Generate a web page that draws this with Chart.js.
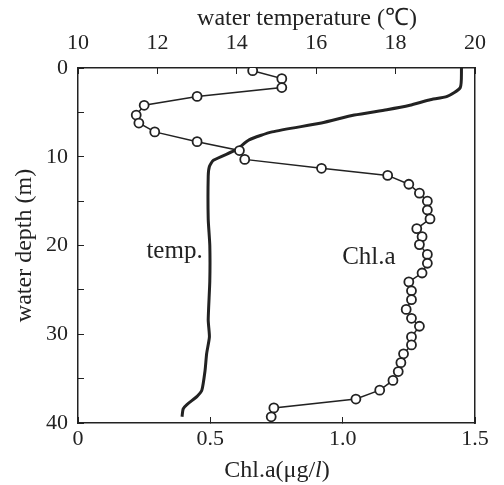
<!DOCTYPE html>
<html>
<head>
<meta charset="utf-8">
<script src="https://cdn.jsdelivr.net/npm/chart.js@4.4.0/dist/chart.umd.min.js"></script>
<style>
  html, body { margin: 0; padding: 0; background: #fff; }
</style>
</head>
<body>
<canvas id="profile" width="504" height="485"></canvas>
<script>
// Chl.a profile (bottom axis, ug/l) vs water depth (m)
const chlDepth = [0.3, 1.2, 2.2, 3.2, 4.2, 5.3, 6.2, 7.2, 8.3, 9.3,
                  10.3, 11.3, 12.1, 13.1, 14.1, 15.0, 16.0, 17.0, 18.1, 19.0,
                  19.9, 21.0, 22.0, 23.1, 24.1, 25.1, 26.1, 27.2, 28.2, 29.1,
                  30.3, 31.2, 32.2, 33.2, 34.2, 35.2, 36.3, 37.3, 38.3, 39.3];
const chlValue = [0.66, 0.77, 0.77, 0.45, 0.25, 0.22, 0.23, 0.29, 0.45, 0.61,
                  0.63, 0.92, 1.17, 1.25, 1.29, 1.32, 1.32, 1.33, 1.28, 1.30,
                  1.29, 1.32, 1.32, 1.30, 1.25, 1.26, 1.26, 1.24, 1.26, 1.29,
                  1.26, 1.26, 1.23, 1.22, 1.21, 1.19, 1.14, 1.05, 0.74, 0.73];

// water temperature profile (top axis, deg C)
const tempDepth = [0, 2.2, 3.2, 3.6, 4.2, 4.7, 5.3, 6.2, 7.2, 8.1, 9.2,
                   10.4, 11.1, 12.2, 17.0, 20.0, 24.0, 28.4, 30.3, 32.2,
                   34.1, 36.3, 37.0, 37.9, 38.4, 39.3];
const tempValue = [19.66, 19.63, 19.3, 18.85, 18.36, 17.78, 16.96, 16.13, 14.89, 14.31, 13.99,
                   13.41, 13.31, 13.28, 13.28, 13.32, 13.32, 13.28, 13.31, 13.24,
                   13.20, 13.12, 13.00, 12.75, 12.65, 12.62];

// axis ticks
const chlTicks = [0, 0.5, 1, 1.5];
const tempTicks = [10, 12, 14, 16, 18, 20];
const depthTicks = [0, 10, 20, 30, 40];

const ink = '#222';
const serif = "'Liberation Serif', 'Times New Roman', serif";

const chlPoints = chlDepth.map((d, i) => ({ x: chlValue[i], y: d }));
const tempPoints = tempDepth.map((d, i) => ({ x: tempValue[i], y: d }));

// titles and in-plot labels
const textPlugin = {
    id: 'textLabels',
    afterDraw(chart) {
        const ctx = chart.ctx;
        const x = chart.scales.x, x2 = chart.scales.x2, y = chart.scales.y;
        ctx.save();
        ctx.fillStyle = ink;
        ctx.textBaseline = 'alphabetic';

        // top title, sits a bit right of centre
        ctx.font = '24px ' + serif;
        ctx.textAlign = 'center';
        ctx.fillText('water temperature (\u2103)', 307, 25);

        // bottom title with italic l
        const parts = [['Chl.a(\u03bcg/', 'normal'], ['l', 'italic'], [')', 'normal']];
        let total = 0;
        parts.forEach(p => { ctx.font = p[1] + ' 24px ' + serif; total += ctx.measureText(p[0]).width; });
        let cx = 277 - total / 2;
        ctx.textAlign = 'left';
        parts.forEach(p => {
            ctx.font = p[1] + ' 24px ' + serif;
            ctx.fillText(p[0], cx, 477);
            cx += ctx.measureText(p[0]).width;
        });

        // curve labels
        ctx.font = '25px ' + serif;
        ctx.textAlign = 'right';
        ctx.textBaseline = 'middle';
        ctx.fillText('temp.', x2.getPixelForValue(13.14), y.getPixelForValue(20.7));
        ctx.fillText('Chl.a', x.getPixelForValue(1.2), y.getPixelForValue(21.4));
        ctx.restore();
    }
};

const tickGrid = {
    drawOnChartArea: false,
    tickLength: -6,
    tickWidth: 1,
    tickColor: ink
};

new Chart(document.getElementById('profile'), {
    type: 'scatter',
    data: {
        datasets: [
            {
                label: 'Chl.a',
                data: chlPoints,
                xAxisID: 'x',
                showLine: true,
                borderColor: ink,
                borderWidth: 1.5,
                pointRadius: 4.5,
                pointBorderWidth: 1.8,
                pointBackgroundColor: '#fff',
                pointBorderColor: ink
            },
            {
                label: 'temp.',
                data: tempPoints,
                xAxisID: 'x2',
                showLine: true,
                borderColor: ink,
                borderWidth: 3,
                tension: 0.2,
                pointRadius: 0
            }
        ]
    },
    plugins: [textPlugin],
    options: {
        responsive: false,
        animation: false,
        layout: { padding: 0 },
        plugins: {
            legend: { display: false },
            tooltip: { enabled: false }
        },
        scales: {
            x: {
                type: 'linear',
                position: 'bottom',
                min: 0,
                max: 1.5,
                afterBuildTicks: s => { s.ticks = chlTicks.map(v => ({ value: v })); },
                afterFit: s => { s.height = 62; },
                grid: tickGrid,
                border: { color: ink, width: 1.5 },
                ticks: { color: ink, padding: 9, font: { family: serif, size: 22 } }
            },
            x2: {
                type: 'linear',
                position: 'top',
                min: 10,
                max: 20,
                afterBuildTicks: s => { s.ticks = tempTicks.map(v => ({ value: v })); },
                afterFit: s => { s.height = 68; },
                grid: tickGrid,
                border: { color: ink, width: 1.5 },
                ticks: { color: ink, padding: 18, font: { family: serif, size: 22 } }
            },
            y: {
                type: 'linear',
                position: 'left',
                reverse: true,
                min: 0,
                max: 40,
                ticks: {
                    stepSize: 5,
                    color: ink,
                    padding: 16,
                    font: { family: serif, size: 22 },
                    callback: v => depthTicks.includes(v) ? v : ''
                },
                afterFit: s => { s.width = 78; },
                grid: tickGrid,
                border: { color: ink, width: 1.5 },
                title: {
                    display: true,
                    text: 'water depth (m)',
                    color: ink,
                    font: { family: serif, size: 24 },
                    padding: { top: 10, bottom: 0 }
                }
            },
            y2: {
                type: 'linear',
                position: 'right',
                min: 0,
                max: 40,
                ticks: { display: false },
                grid: { drawOnChartArea: false, drawTicks: false },
                border: { color: ink, width: 1.5 },
                afterFit: s => { s.width = 21; }
            }
        }
    }
});
</script>
</body>
</html>
